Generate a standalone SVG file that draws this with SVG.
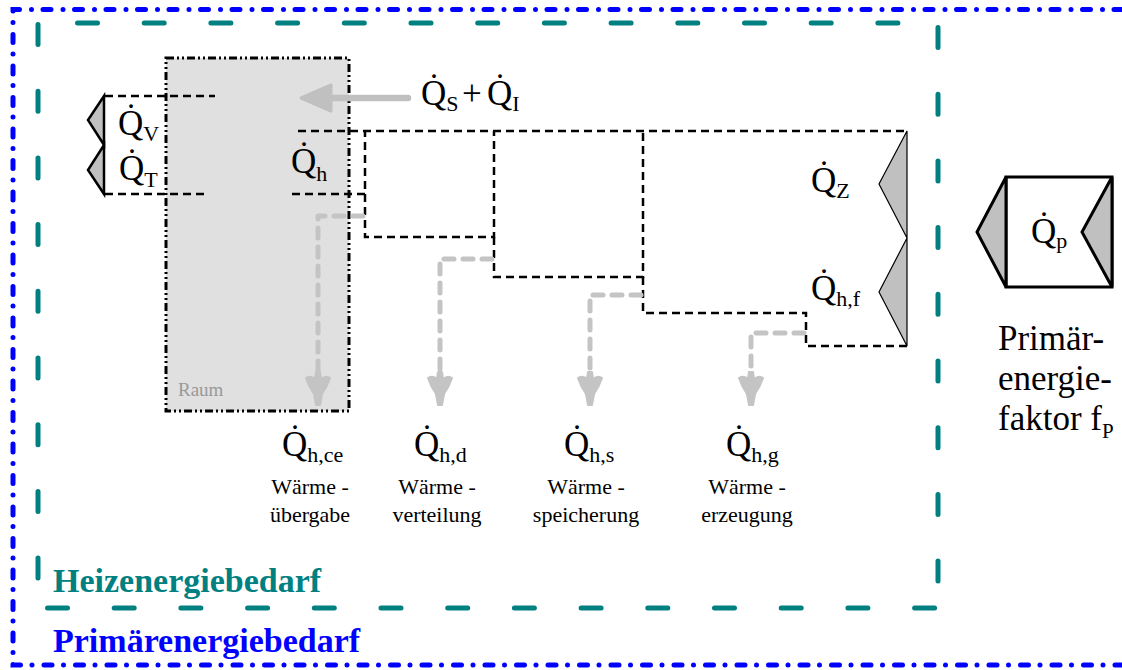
<svg xmlns="http://www.w3.org/2000/svg" width="1122" height="670" viewBox="0 0 1122 670">
<defs>
<style>
.q{font-family:"Liberation Serif","Times New Roman",serif;font-size:35px;fill:#000}
.sub{font-size:22px}
.lbl{font-family:"Liberation Serif","Times New Roman",serif;font-size:22px;fill:#000;text-anchor:middle}
.big{font-family:"Liberation Serif","Times New Roman",serif;font-size:35px;fill:#000}
.flow{fill:none;stroke:#000;stroke-width:2.5;stroke-dasharray:8 5}
.loss{fill:none;stroke:#c4c4c4;stroke-width:5;stroke-linecap:round;stroke-linejoin:round;stroke-dasharray:10 9}
.tri{fill:#c0c0c0;stroke:#000;stroke-linejoin:miter}
.teal{fill:none;stroke:#008080;stroke-width:5;stroke-linecap:round;stroke-dasharray:20 46.7}
</style>
<path id="ah" d="M-12,0 Q-7,-3 -3,1 L-2,-6 L2,-6 L3,1 Q8,-3 12,0 Q9,9 4,16 L2,27 L-2,27 L-4,16 Q-9,9 -12,0 Z" fill="#c4c4c4" stroke="#c4c4c4" stroke-width="2" stroke-linejoin="round"/>
</defs>

<g id="primaer-frame">
<path d="M1122,9.5 H13 V665 H1122" fill="none" stroke="#0000ff" stroke-width="5" stroke-linecap="round" stroke-dasharray="8 11.5 0 12"/>
<text x="53" y="652" font-family="Liberation Serif, serif" font-weight="bold" font-size="34" fill="#0000ff">Primärenergiebedarf</text>
</g>

<g id="heiz-frame">
<path class="teal" d="M77.5,23 H938"/>
<path class="teal" d="M38,24.5 V608"/>
<path class="teal" d="M47.5,608 H938"/>
<path class="teal" d="M938,27.5 V608"/>
<text x="53" y="592" font-family="Liberation Serif, serif" font-weight="bold" font-size="34" fill="#008080">Heizenergiebedarf</text>
</g>

<g id="raum">
<rect x="166" y="58" width="183" height="353" fill="#e0e0e0" stroke="#000" stroke-width="3" stroke-dasharray="8 3 2 3 2 3"/>
<text x="178" y="396" font-family="Liberation Serif, serif" font-size="19" fill="#999">Raum</text>
</g>

<g id="connectors">
<path class="flow" d="M105,96 H215"/>
<path class="flow" d="M105,194 H208"/>
<path class="flow" d="M298,131 H907"/>
<path class="flow" d="M292,194 H365 V131"/>
<path class="flow" d="M365,194 V237 H494 V131"/>
<path class="flow" d="M494,237 V277 H643 V131"/>
<path class="flow" d="M643,277 V313 H806 V346 H907"/>
<path class="loss" d="M363,216 H318 V376"/>
<path class="loss" d="M492,259 H440 V376"/>
<path class="loss" d="M641,295 H590 V376"/>
<path class="loss" d="M804,333 H751 V376"/>
<use href="#ah" x="318" y="378"/>
<use href="#ah" x="440" y="378"/>
<use href="#ah" x="590" y="378"/>
<use href="#ah" x="751" y="378"/>
<line x1="408" y1="98" x2="328" y2="98" stroke="#c0c0c0" stroke-width="6.5" stroke-linecap="round"/>
<polygon points="301,98 331,85 331,111" fill="#c0c0c0" stroke="#c0c0c0" stroke-width="3" stroke-linejoin="round"/>
</g>

<g id="verluste-links">
<line x1="104" y1="96" x2="104" y2="194" stroke="#000" stroke-width="2"/>
<polygon class="tri" stroke-width="2.5" points="104,96 88,120 104,145"/>
<polygon class="tri" stroke-width="2.5" points="104,145 88,170 104,194"/>
<text class="q" x="118" y="135">Q̇<tspan class="sub" dy="6">V</tspan></text>
<text class="q" x="119" y="180">Q̇<tspan class="sub" dy="7">T</tspan></text>
</g>

<g id="qh">
<text class="q" x="291" y="173">Q̇<tspan class="sub" dy="8">h</tspan></text>
</g>

<g id="gewinne">
<text class="q" x="421" y="105">Q̇<tspan class="sub" dy="6">S</tspan></text>
<text class="q" x="462" y="105" font-size="31">+</text>
<text class="q" x="487" y="105">Q̇<tspan class="sub" dy="6">I</tspan></text>
</g>

<g id="zufuhr">
<polygon class="tri" stroke-width="1.2" points="907,131 879,184 907,238"/>
<polygon class="tri" stroke-width="1.2" points="907,238 879,292 907,346"/>
<text class="q" x="811" y="192">Q̇<tspan class="sub" dy="6">Z</tspan></text>
<text class="q" x="811" y="300">Q̇<tspan class="sub" dy="6">h,f</tspan></text>
</g>

<g id="uebergabe">
<text class="q" x="282" y="456">Q̇<tspan class="sub" dy="6">h,ce</tspan></text>
<text class="lbl" x="310" y="494">Wärme -</text>
<text class="lbl" x="310" y="522">übergabe</text>
</g>
<g id="verteilung">
<text class="q" x="414" y="456">Q̇<tspan class="sub" dy="6">h,d</tspan></text>
<text class="lbl" x="437" y="494">Wärme -</text>
<text class="lbl" x="437" y="522">verteilung</text>
</g>
<g id="speicherung">
<text class="q" x="564" y="456">Q̇<tspan class="sub" dy="6">h,s</tspan></text>
<text class="lbl" x="586" y="494">Wärme -</text>
<text class="lbl" x="586" y="522">speicherung</text>
</g>
<g id="erzeugung">
<text class="q" x="726" y="456">Q̇<tspan class="sub" dy="6">h,g</tspan></text>
<text class="lbl" x="747" y="494">Wärme -</text>
<text class="lbl" x="747" y="522">erzeugung</text>
</g>

<g id="primaerenergie">
<rect x="1006" y="177" width="106" height="110" fill="#fff" stroke="#000" stroke-width="3"/>
<polygon class="tri" stroke-width="3" points="1006,177 977,232 1006,287"/>
<polygon class="tri" stroke-width="3" points="1112,177 1082,232 1112,287"/>
<text class="q" x="1031" y="243">Q̇<tspan class="sub" dy="5">p</tspan></text>
<text class="big" x="998" y="350">Primär-</text>
<text class="big" x="998" y="390">energie-</text>
<text class="big" x="998" y="430">faktor f<tspan font-size="21" dy="8">P</tspan></text>
</g>
</svg>
